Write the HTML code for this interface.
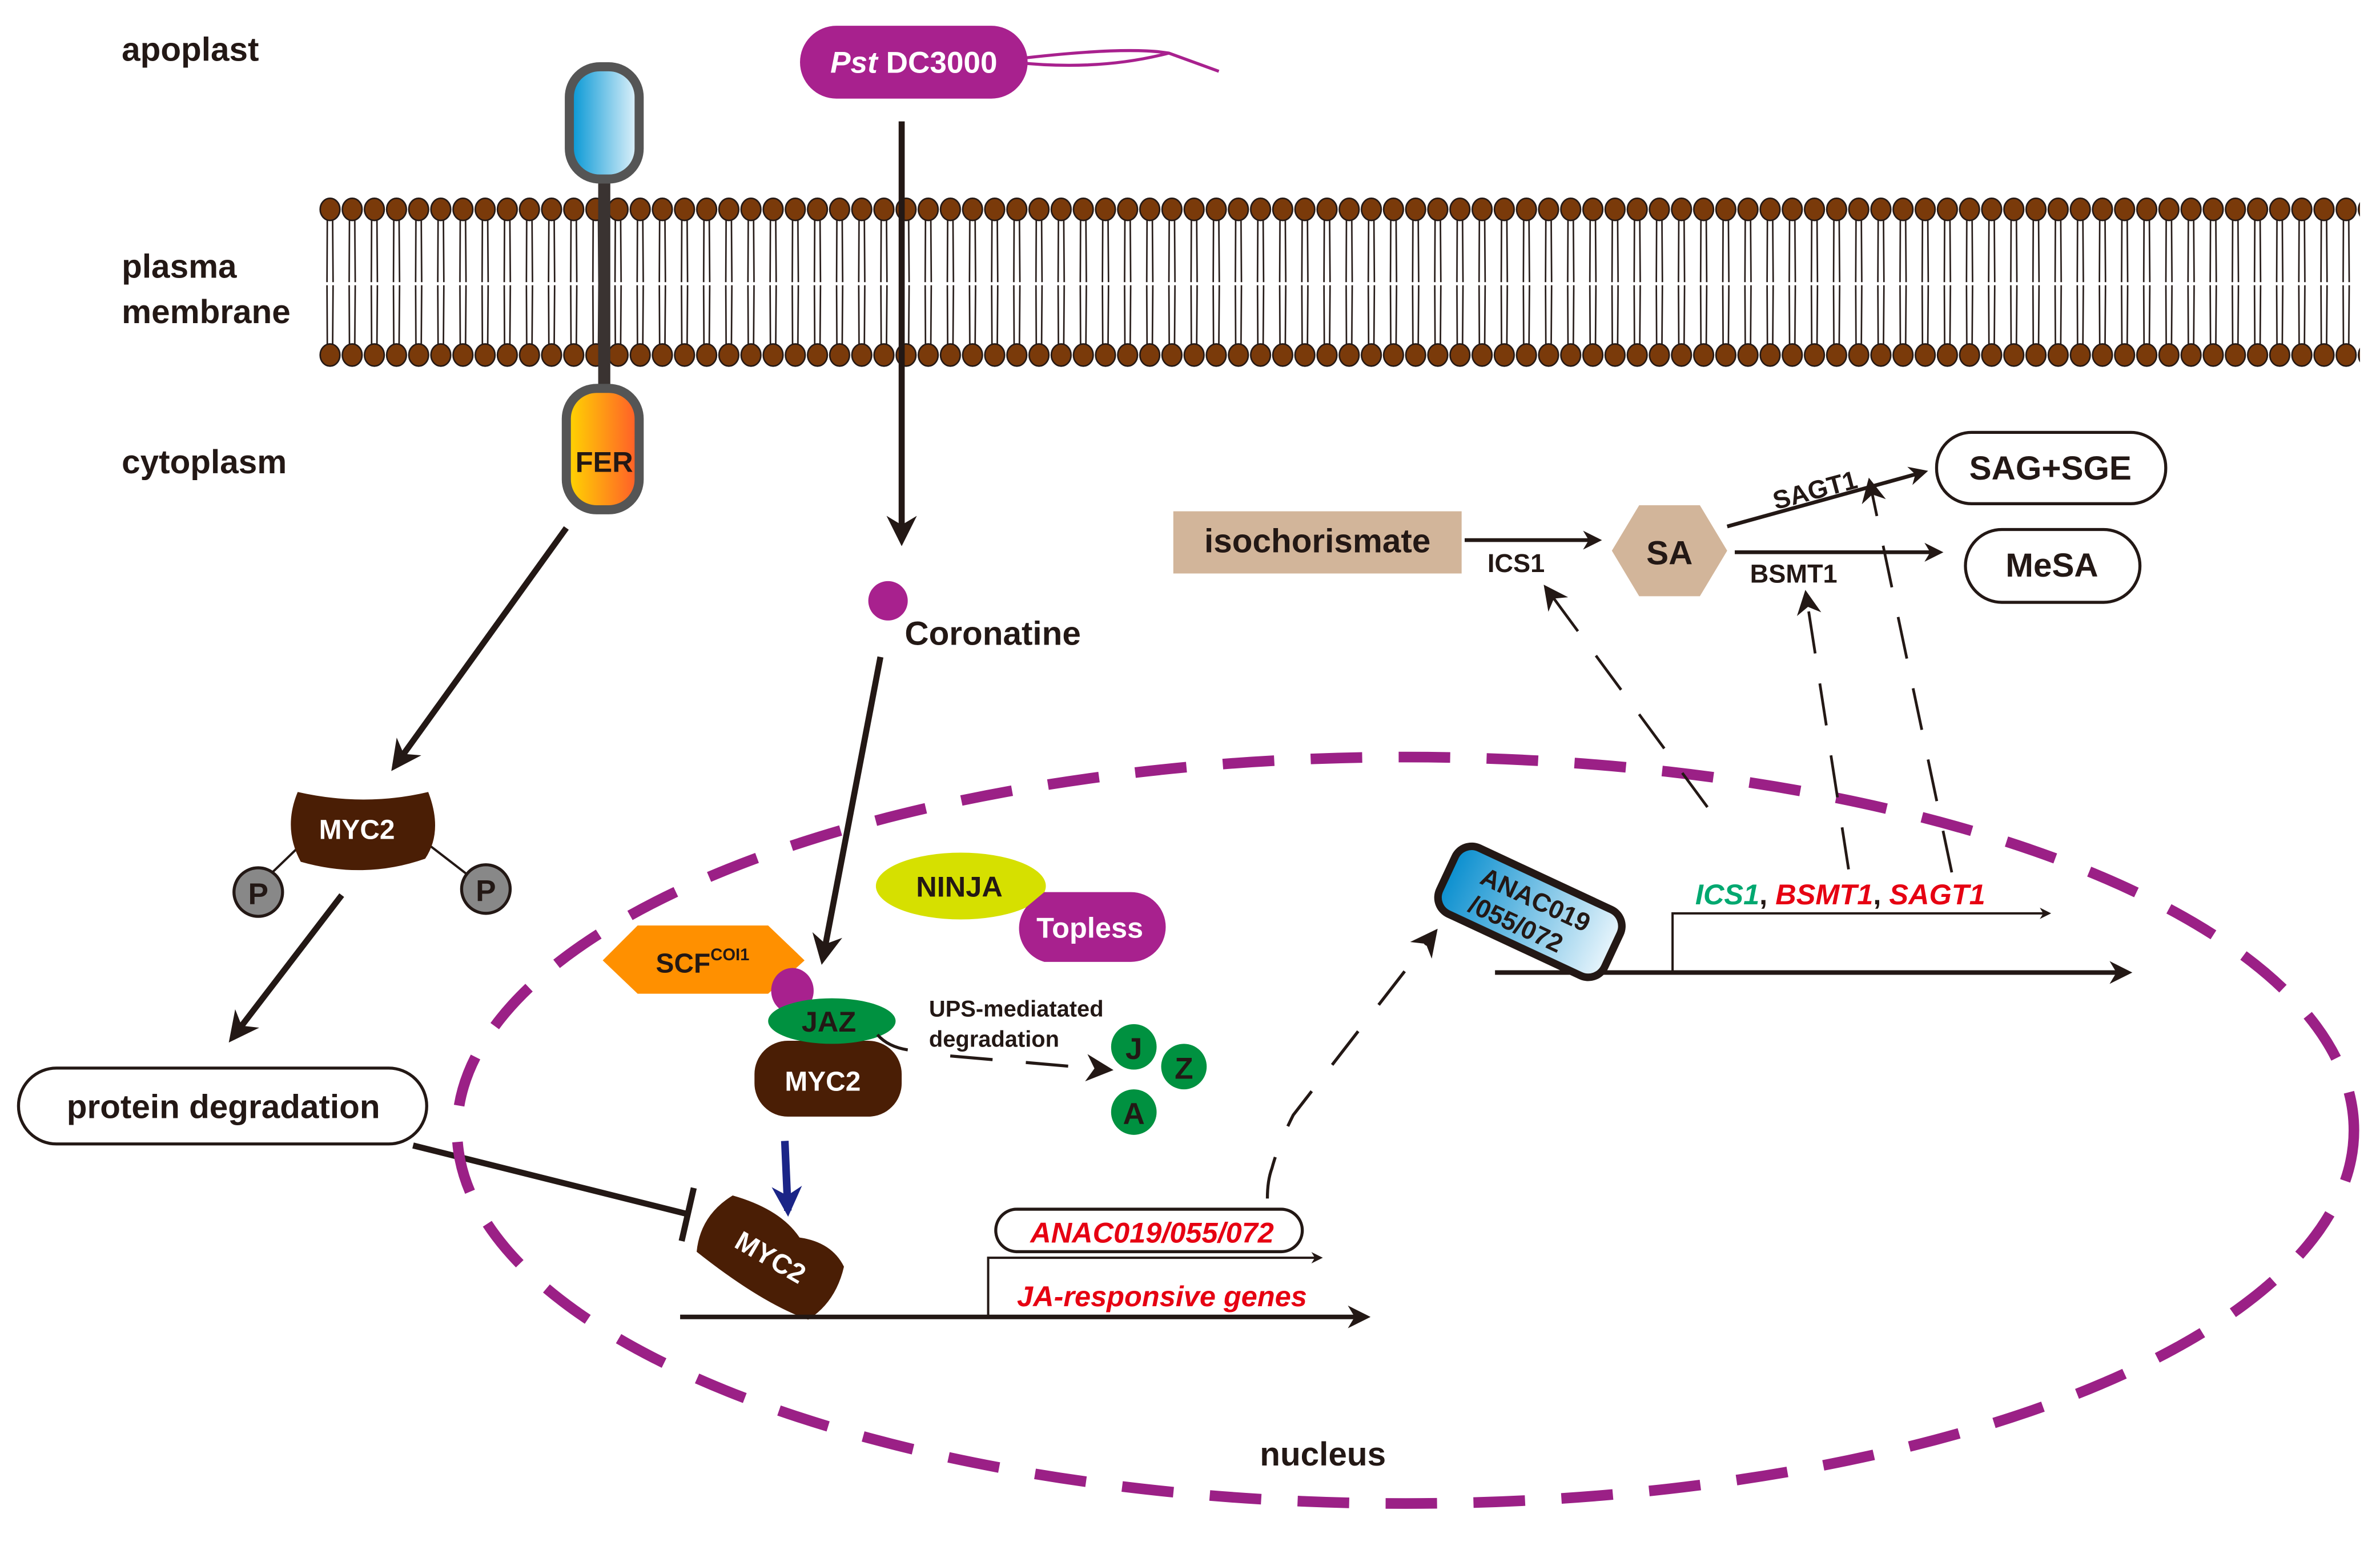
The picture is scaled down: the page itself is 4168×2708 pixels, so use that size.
<!DOCTYPE html>
<html><head><meta charset="utf-8"><style>html,body{margin:0;padding:0;background:#fff}svg{display:block}text{font-family:"Liberation Sans",Arial,sans-serif;font-weight:bold}</style></head>
<body>
<svg width="4168" height="2708" viewBox="0 0 1568 1019" xmlns="http://www.w3.org/2000/svg">
<defs>
<pattern id="mem" x="210" y="0" width="14.6" height="1019" patternUnits="userSpaceOnUse">
<path d="M5.5 144 L5.3 186 M9 144 L9.3 186 M5.3 188 L5.5 228 M9.3 188 L9 228" stroke="#231815" stroke-width="1" fill="none"/>
<ellipse cx="7.3" cy="138" rx="6.5" ry="7.3" fill="#7a3a0a" stroke="#231815" stroke-width="1"/>
<ellipse cx="7.3" cy="234" rx="6.5" ry="7.3" fill="#7a3a0a" stroke="#231815" stroke-width="1"/>
</pattern>
<linearGradient id="blue" x1="0" x2="1"><stop offset="0" stop-color="#0095d4"/><stop offset="1" stop-color="#e6f4fb"/></linearGradient>
<linearGradient id="org" x1="0" x2="1"><stop offset="0" stop-color="#ffd800"/><stop offset="1" stop-color="#ff5a2a"/></linearGradient>
<linearGradient id="anac" x1="0" x2="1"><stop offset="0" stop-color="#0a8fcf"/><stop offset="1" stop-color="#e8f5fc"/></linearGradient>
<marker id="ah" viewBox="0 0 10 10" refX="8" refY="5" markerWidth="5" markerHeight="5" orient="auto"><path d="M0 0 L10 5 L0 10 L3 5Z" fill="#231815"/></marker>
<marker id="ahs" viewBox="0 0 10 10" refX="8" refY="5" markerWidth="9" markerHeight="9" orient="auto"><path d="M0 0 L10 5 L0 10 L3 5Z" fill="#231815"/></marker>
<marker id="ahb" viewBox="0 0 10 10" refX="8" refY="5" markerWidth="4" markerHeight="4" orient="auto"><path d="M0 0 L10 5 L0 10 L3 5Z" fill="#1b2587"/></marker>
</defs>

<!-- membrane -->
<rect x="210" y="128" width="1345" height="116" fill="url(#mem)"/>

<text x="80" y="40" font-size="22" fill="#231815">apoplast</text>
<text x="80" y="183" font-size="22" fill="#231815">plasma</text>
<text x="80" y="213" font-size="22" fill="#231815">membrane</text>
<text x="80" y="312" font-size="22" fill="#231815">cytoplasm</text>

<!-- FER -->
<line x1="398" y1="115" x2="398" y2="260" stroke="#3a3331" stroke-width="8"/>
<rect x="375" y="44" width="46" height="74" rx="20" fill="url(#blue)" stroke="#555" stroke-width="6"/>
<rect x="373" y="256" width="48" height="80" rx="20" fill="url(#org)" stroke="#555" stroke-width="6"/>
<text x="398" y="311" font-size="19" text-anchor="middle" fill="#231815">FER</text>

<!-- Pst -->
<path d="M660 40 Q740 30 770 35 L803 47 M660 40 Q720 48 770 35" stroke="#a8218e" stroke-width="2" fill="none"/>
<rect x="527" y="17" width="150" height="48" rx="24" fill="#a8218e"/>
<text x="602" y="48" font-size="20" fill="#fff" font-weight="normal" text-anchor="middle"><tspan font-style="italic" font-weight="bold">Pst</tspan> DC3000</text>
<line x1="594" y1="80" x2="594" y2="356" stroke="#231815" stroke-width="4" marker-end="url(#ah)"/>

<circle cx="585" cy="396" r="13" fill="#a8218e"/>
<text x="596" y="425" font-size="22" fill="#231815">Coronatine</text>
<line x1="580" y1="433" x2="542" y2="632" stroke="#231815" stroke-width="4" marker-end="url(#ah)"/>

<!-- FER → MYC2 -->
<line x1="373" y1="348" x2="260" y2="505" stroke="#231815" stroke-width="4" marker-end="url(#ah)"/>
<line x1="200" y1="555" x2="172" y2="582" stroke="#231815" stroke-width="1.5"/>
<line x1="280" y1="555" x2="315" y2="582" stroke="#231815" stroke-width="1.5"/>
<path d="M196 522 Q240 532 282 522 Q292 548 280 566 Q240 580 198 568 Q186 546 196 522Z" fill="#4a1e05"/>
<text x="235" y="553" font-size="18" fill="#fff" text-anchor="middle">MYC2</text>
<circle cx="170" cy="588" r="16" fill="#888" stroke="#231815" stroke-width="2"/>
<text x="170" y="596" font-size="20" fill="#231815" text-anchor="middle">P</text>
<circle cx="320" cy="586" r="16" fill="#888" stroke="#231815" stroke-width="2"/>
<text x="320" y="594" font-size="20" fill="#231815" text-anchor="middle">P</text>
<line x1="225" y1="590" x2="153" y2="684" stroke="#231815" stroke-width="4" marker-end="url(#ah)"/>
<rect x="12" y="704" width="269" height="50" rx="25" fill="#fff" stroke="#231815" stroke-width="2"/>
<text x="147" y="737" font-size="22" fill="#231815" text-anchor="middle">protein degradation</text>
<line x1="272" y1="755" x2="452" y2="800" stroke="#231815" stroke-width="4"/>
<line x1="457" y1="783" x2="449" y2="818" stroke="#231815" stroke-width="4"/>

<!-- nucleus -->
<ellipse cx="926" cy="745" rx="625" ry="246" fill="none" stroke="#9b2086" stroke-width="7" stroke-dasharray="34 24"/>
<text x="830" y="966" font-size="22" fill="#231815">nucleus</text>

<!-- SCF complex -->
<polygon points="397,633 420,610 506,610 530,633 506,655 420,655" fill="#ff9000"/>
<text x="432" y="641" font-size="18" fill="#231815">SCF<tspan font-size="11" dy="-8">COI1</tspan></text>
<ellipse cx="522" cy="653" rx="14" ry="15" fill="#a8218e"/>
<rect x="497" y="686" width="97" height="50" rx="22" fill="#4a1e05"/>
<ellipse cx="548" cy="673" rx="42" ry="15" fill="#009140"/>
<text x="546" y="680" font-size="19" fill="#231815" text-anchor="middle">JAZ</text>
<text x="542" y="719" font-size="18" fill="#fff" text-anchor="middle">MYC2</text>
<ellipse cx="633" cy="584" rx="56" ry="22" fill="#d6e000"/>
<path d="M676 598 L688 588 L745 588 A23 23 0 0 1 745 634 L688 634 A23 23 0 0 1 676 598Z" fill="#a8218e"/>
<text x="632" y="591" font-size="19" fill="#231815" text-anchor="middle">NINJA</text>
<text x="718" y="618" font-size="19" fill="#fff" text-anchor="middle">Topless</text>
<text x="612" y="670" font-size="15" fill="#231815" font-weight="normal">UPS-mediatated</text>
<text x="612" y="690" font-size="15" fill="#231815" font-weight="normal">degradation</text>
<path d="M578 682 Q585 690 598 692" stroke="#231815" stroke-width="2" fill="none"/>
<line x1="626" y1="696" x2="730" y2="705" stroke="#231815" stroke-width="2" stroke-dasharray="28 22" marker-end="url(#ahs)"/>
<circle cx="747" cy="690" r="15" fill="#009140"/><text x="747" y="698" font-size="20" text-anchor="middle" fill="#231815">J</text>
<circle cx="780" cy="703" r="15" fill="#009140"/><text x="780" y="711" font-size="20" text-anchor="middle" fill="#231815">Z</text>
<circle cx="747" cy="733" r="15" fill="#009140"/><text x="747" y="741" font-size="20" text-anchor="middle" fill="#231815">A</text>

<line x1="517" y1="752" x2="519" y2="798" stroke="#1b2587" stroke-width="5" marker-end="url(#ahb)"/>
<g transform="translate(508,828) rotate(30)">
<path d="M-42 -22 Q-10 -30 10 -20 Q30 -28 45 -18 Q52 5 42 24 Q10 30 -44 22 Q-54 0 -42 -22Z" fill="#4a1e05"/>
<text x="0" y="7" font-size="18" fill="#fff" text-anchor="middle">MYC2</text>
</g>

<!-- JA genes -->
<line x1="448" y1="868" x2="900" y2="868" stroke="#231815" stroke-width="3" marker-end="url(#ah)"/>
<path d="M651 868 L651 829 L870 829" stroke="#231815" stroke-width="1.5" fill="none" marker-end="url(#ah)"/>
<rect x="656" y="797" width="202" height="28" rx="14" fill="#fff" stroke="#231815" stroke-width="2"/>
<text x="759" y="819" font-size="19" fill="#e60012" font-style="italic" text-anchor="middle">ANAC019/055/072</text>
<text x="670" y="861" font-size="19" fill="#e60012" font-style="italic">JA-responsive genes</text>
<path d="M835 790 Q835 778 838 770 Q842 755 852 735 L945 615" stroke="#231815" stroke-width="2" fill="none" stroke-dasharray="28 22" marker-end="url(#ahs)"/>

<!-- ANAC box -->
<line x1="985" y1="641" x2="1402" y2="641" stroke="#231815" stroke-width="3" marker-end="url(#ah)"/>
<path d="M1102 641 L1102 602 L1350 602" stroke="#231815" stroke-width="1.5" fill="none" marker-end="url(#ah)"/>
<g transform="translate(1008,601) rotate(25)">
<rect x="-60" y="-24" width="120" height="48" rx="12" fill="url(#anac)" stroke="#231815" stroke-width="5"/>
<text x="0" y="-3" font-size="17" fill="#231815" text-anchor="middle">ANAC019</text>
<text x="-5" y="17" font-size="17" fill="#231815" text-anchor="middle">/055/072</text>
</g>
<text x="1117" y="596" font-size="19" font-style="italic"><tspan fill="#00a870">ICS1</tspan><tspan fill="#231815" font-style="normal">, </tspan><tspan fill="#e60012">BSMT1</tspan><tspan fill="#231815" font-style="normal">, </tspan><tspan fill="#e60012">SAGT1</tspan></text>

<!-- SA pathway -->
<rect x="773" y="337" width="190" height="41" fill="#d2b59a"/>
<text x="868" y="364" font-size="22" fill="#231815" text-anchor="middle">isochorismate</text>
<line x1="965" y1="356" x2="1053" y2="356" stroke="#231815" stroke-width="2.5" marker-end="url(#ah)"/>
<text x="980" y="377" font-size="17" fill="#231815">ICS1</text>
<polygon points="1062,363 1080,333 1120,333 1138,363 1120,393 1080,393" fill="#d2b59a"/>
<text x="1100" y="372" font-size="22" fill="#231815" text-anchor="middle">SA</text>
<line x1="1138" y1="347" x2="1268" y2="311" stroke="#231815" stroke-width="2.5" marker-end="url(#ah)"/>
<text x="1170" y="336" font-size="17" fill="#231815" transform="rotate(-15 1170 336)">SAGT1</text>
<line x1="1143" y1="364" x2="1278" y2="364" stroke="#231815" stroke-width="2.5" marker-end="url(#ah)"/>
<text x="1153" y="384" font-size="17" fill="#231815">BSMT1</text>
<rect x="1276" y="285" width="151" height="47" rx="23" fill="#fff" stroke="#231815" stroke-width="2"/>
<text x="1351" y="316" font-size="22" fill="#231815" text-anchor="middle">SAG+SGE</text>
<rect x="1295" y="349" width="115" height="48" rx="24" fill="#fff" stroke="#231815" stroke-width="2"/>
<text x="1352" y="380" font-size="22" fill="#231815" text-anchor="middle">MeSA</text>
<line x1="1125" y1="532" x2="1019" y2="388" stroke="#231815" stroke-width="1.8" stroke-dasharray="28 20" marker-end="url(#ahs)"/>
<line x1="1218" y1="573" x2="1190" y2="392" stroke="#231815" stroke-width="1.8" stroke-dasharray="28 20" marker-end="url(#ahs)"/>
<line x1="1286" y1="575" x2="1232" y2="318" stroke="#231815" stroke-width="1.8" stroke-dasharray="28 20" marker-end="url(#ahs)"/>
</svg>
</body></html>
